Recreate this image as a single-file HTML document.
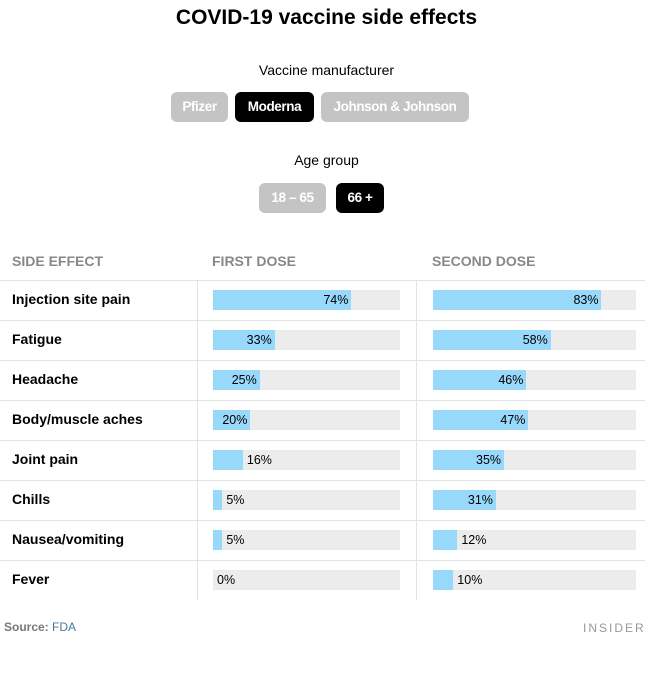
<!DOCTYPE html>
<html><head><style>
body{margin:0;background:#fff;font-family:"Liberation Sans",sans-serif;width:653px;height:681px;position:relative;overflow:hidden}
.a{position:absolute}
.t{left:0;width:653px;text-align:center;font-weight:bold;font-size:21px;top:6px}
.sub{left:0;width:653px;text-align:center;font-size:14px}
.btn{height:30px;border-radius:6px;color:#fff;font-weight:bold;font-size:13.5px;letter-spacing:-0.4px;line-height:30px;text-align:center;background:#c4c4c4}
.blk{background:#000}
.h{top:253px;font-weight:bold;font-size:14px;color:#888}
.line{left:0;width:645px;height:1px;background:#e3e3e3}
.v{width:1px;background:#e3e3e3;top:280px;height:320px}
.lab{left:12px;font-weight:bold;font-size:14px}
.tr{height:20px;background:#ececec}
.bar{height:20px;background:#98d8fb}
.p{font-size:12.5px;line-height:20px}
</style></head><body>
<div class="a t">COVID-19 vaccine side effects</div>
<div class="a sub" style="top:62px">Vaccine manufacturer</div>
<div class="a btn" style="left:171px;top:92px;width:57px">Pfizer</div>
<div class="a btn blk" style="left:235px;top:92px;width:79px">Moderna</div>
<div class="a btn" style="left:321px;top:92px;width:148px">Johnson &amp; Johnson</div>
<div class="a sub" style="top:152px">Age group</div>
<div class="a btn" style="left:259px;top:183px;width:67px">18 – 65</div>
<div class="a btn blk" style="left:336px;top:183px;width:48px">66 +</div>
<div class="a h" style="left:12px">SIDE EFFECT</div>
<div class="a h" style="left:212px">FIRST DOSE</div>
<div class="a h" style="left:432px">SECOND DOSE</div>
<div class="a v" style="left:197px"></div>
<div class="a v" style="left:416px"></div>
<div id="rows"></div>
<div class="a" style="left:4px;top:620px;font-size:12px;color:#777;font-weight:bold">Source: <span style="color:#4a7a9a;font-weight:normal">FDA</span></div>
<div class="a" style="left:583px;top:621px;font-size:12px;color:#999;letter-spacing:2px">INSIDER</div>
<script>
var d=[["Injection site pain",74,83],["Fatigue",33,58],["Headache",25,46],["Body/muscle aches",20,47],["Joint pain",16,35],["Chills",5,31],["Nausea/vomiting",5,12],["Fever",0,10]];
var h='';
function bar(x,w,v,y){var bw=w*v/100;var s='<div class="a tr" style="left:'+x+'px;top:'+y+'px;width:'+w+'px"></div><div class="a bar" style="left:'+x+'px;top:'+y+'px;width:'+bw+'px"></div>';
if(v>=20)s+='<div class="a p" style="left:'+(x+bw-40)+'px;width:37px;text-align:right;top:'+y+'px">'+v+'%</div>';
else s+='<div class="a p" style="left:'+(x+bw+4)+'px;top:'+y+'px">'+v+'%</div>';return s;}
d.forEach(function(r,i){var y=280+i*40;h+='<div class="a line" style="top:'+y+'px"></div><div class="a lab" style="top:'+(y+11)+'px">'+r[0]+'</div>'+bar(213,187,r[1],y+10)+bar(433,203,r[2],y+10);});
document.getElementById('rows').innerHTML=h;
</script>
</body></html>
